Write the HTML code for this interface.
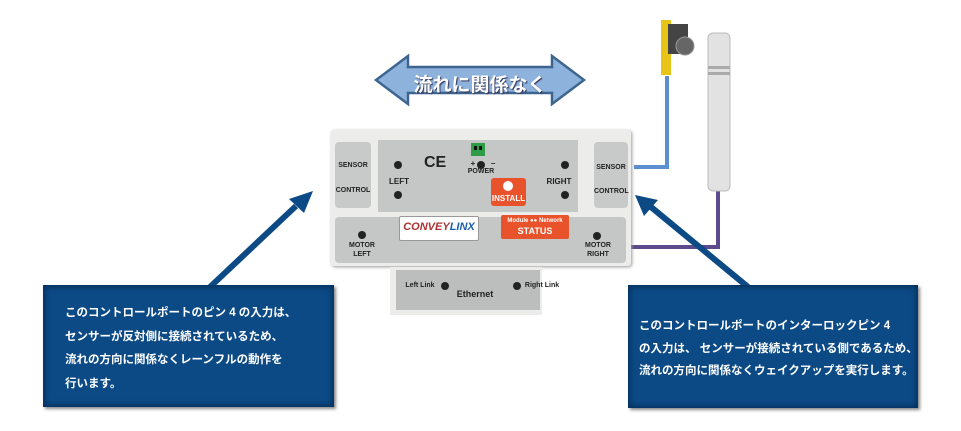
<!DOCTYPE html>
<html><head><meta charset="utf-8"><style>
body{margin:0;width:961px;height:431px;background:#fff;position:relative;overflow:hidden;font-family:"Liberation Sans","Noto Sans CJK JP",sans-serif}
.a{position:absolute}
.box{position:absolute;background:#0c4a86;box-shadow:inset 0 0 6px 2px #06305c,2px 2px 3px #888;color:#fff;font-weight:bold;font-size:11.5px}
.led{position:absolute;width:8px;height:8px;border-radius:50%;background:#222}
.lab{position:absolute;font-size:7px;font-weight:bold;color:#222;text-align:center;line-height:9px}
</style></head><body>
<svg class="a" style="left:0;top:0" width="961" height="431">
<polyline points="634,167 667,167 667,76" fill="none" stroke="#5b8fd0" stroke-width="4"/>
<polyline points="628,247 718,247 718,190" fill="none" stroke="#5c4a8c" stroke-width="4"/>
<polygon points="376,80 408,56 408,67 552,67 552,56 584,80 552,104 552,93 408,93 408,104" fill="#8db2dc" stroke="#3d6590" stroke-width="2.5"/>
<line x1="210" y1="287" x2="296" y2="206" stroke="#0c4a86" stroke-width="6"/>
<polygon points="313,191 289,199 304,213" fill="#0c4a86"/>
<line x1="748" y1="287" x2="651" y2="207" stroke="#0c4a86" stroke-width="6"/>
<polygon points="635,195 644,216 658,200" fill="#0c4a86"/>
<rect x="708" y="33" width="22" height="158" rx="5" fill="#e2e2e2" stroke="#bbb"/>
<rect x="708" y="66" width="22" height="3" fill="#aaa"/><rect x="708" y="72" width="22" height="3" fill="#aaa"/>
<rect x="661" y="20" width="10" height="55" fill="#e8c419"/>
<rect x="668" y="24" width="20" height="30" fill="#444"/>
<circle cx="685" cy="46" r="9" fill="#666" stroke="#999"/>
</svg>
<div class="a" style="left:409px;top:70px;width:142px;text-align:center;font-size:19px;font-weight:bold;color:#fff;text-shadow:1px 1px 1px #335">流れに関係なく</div>
<div class="a" style="left:331px;top:130px;width:300px;height:136px;background:#ececea;border-radius:3px;box-shadow:1px 1px 3px #999"></div>
<div class="a" style="left:335px;top:142px;width:36px;height:66px;background:#c8c9c9;border-radius:4px"></div>
<div class="a" style="left:594px;top:142px;width:34px;height:66px;background:#c8c9c9;border-radius:4px"></div>
<div class="a" style="left:378px;top:140px;width:200px;height:72px;background:#c5c6c6"></div>
<div class="a" style="left:335px;top:217px;width:291px;height:46px;background:#c5c6c6;border-radius:4px"></div>
<div class="a" style="left:390px;top:267px;width:152px;height:48px;background:#ececea"></div>
<div class="a" style="left:396px;top:270px;width:144px;height:40px;background:#bcbdbd"></div>
<div class="lab" style="left:335px;top:161px;width:36px">SENSOR</div>
<div class="lab" style="left:335px;top:186px;width:36px">CONTROL</div>
<div class="lab" style="left:594px;top:163px;width:34px">SENSOR</div>
<div class="lab" style="left:594px;top:187px;width:34px">CONTROL</div>
<div class="led" style="left:394px;top:161px"></div><div class="led" style="left:394px;top:191px"></div>
<div class="lab" style="left:385px;top:177px;width:28px;font-size:8px">LEFT</div>
<div class="led" style="left:561px;top:161px"></div><div class="led" style="left:561px;top:191px"></div>
<div class="lab" style="left:544px;top:177px;width:30px;font-size:8px">RIGHT</div>
<div class="a" style="left:424px;top:154px;font-size:16px;color:#222;font-weight:bold">CE</div>
<div class="a" style="left:471px;top:143px;width:14px;height:13px;background:#2e9b47"></div>
<div class="a" style="left:474px;top:146px;width:3px;height:4px;background:#111"></div>
<div class="a" style="left:479px;top:146px;width:3px;height:4px;background:#111"></div>
<div class="led" style="left:477px;top:161px"></div>
<div class="lab" style="left:459px;top:159px;width:48px;font-size:8px">+&nbsp;&nbsp;&nbsp;&nbsp;&nbsp;&nbsp;&nbsp;–</div>
<div class="lab" style="left:458px;top:167px;width:46px">POWER</div>
<div class="a" style="left:491px;top:178px;width:35px;height:28px;background:#e8532c;border-radius:3px"></div>
<div class="a" style="left:503px;top:181px;width:10px;height:10px;border-radius:50%;background:#fff"></div>
<div class="a" style="left:491px;top:194px;width:35px;text-align:center;color:#fff;font-size:8px;font-weight:bold">INSTALL</div>
<div class="a" style="left:399px;top:216px;width:78px;height:23px;background:#fff;border:1px solid #999;border-radius:2px;font-size:11px;font-weight:bold;font-style:italic;color:#a33;text-align:center;line-height:20px">CONVEY<span style="color:#1a5fb0">LINX</span></div>
<div class="a" style="left:501px;top:215px;width:68px;height:24px;background:#e8532c;border-radius:2px"></div>
<div class="lab" style="left:501px;top:217px;width:68px;color:#fff;font-size:6px">Module ●● Network</div>
<div class="lab" style="left:501px;top:227px;width:68px;color:#fff;font-size:9px">STATUS</div>
<div class="led" style="left:358px;top:231px"></div>
<div class="lab" style="left:340px;top:241px;width:44px">MOTOR<br>LEFT</div>
<div class="led" style="left:593px;top:232px"></div>
<div class="lab" style="left:576px;top:241px;width:44px">MOTOR<br>RIGHT</div>
<div class="lab" style="left:400px;top:281px;width:40px">Left Link</div>
<div class="led" style="left:441px;top:282px"></div>
<div class="led" style="left:513px;top:282px"></div>
<div class="lab" style="left:522px;top:281px;width:40px">Right Link</div>
<div class="lab" style="left:450px;top:290px;width:50px;font-size:9px">Ethernet</div>
<div class="box" style="left:43px;top:285px;width:291px;height:122px">
<div class="a" style="left:22px;top:17px;line-height:23.5px;white-space:nowrap">このコントロールポートのピン 4 の入力は、<br>センサーが反対側に接続されているため、<br>流れの方向に関係なくレーンフルの動作を<br>行います。</div></div>
<div class="box" style="left:628px;top:285px;width:290px;height:123px">
<div class="a" style="left:11px;top:30px;line-height:22.5px;white-space:nowrap">このコントロールポートのインターロックピン 4<br>の入力は、 センサーが接続されている側であるため、<br>流れの方向に関係なくウェイクアップを実行します。</div></div>
</body></html>
